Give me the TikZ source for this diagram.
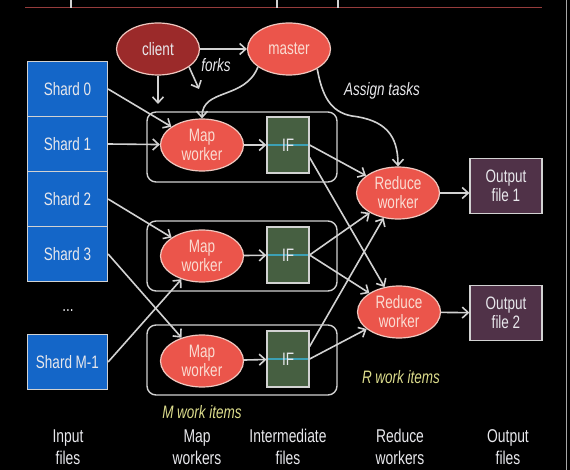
\documentclass[tikz,border=0pt]{standalone}
\usepackage{fontspec}
\setmainfont[FakeStretch=0.75]{Liberation Sans}
\usetikzlibrary{arrows.meta,positioning,shapes.geometric}
\definecolor{shard}{HTML}{1466C8}
\definecolor{worker}{HTML}{EB554B}
\definecolor{clientred}{HTML}{9B2A2A}
\definecolor{inter}{HTML}{465F41}
\definecolor{outfile}{HTML}{503248}
\definecolor{edge}{HTML}{D2D2D2}
\definecolor{rim}{HTML}{F0C8C0}
\definecolor{wire}{HTML}{3CA0B4}
\definecolor{fgtext}{HTML}{E8E8EC}
\definecolor{workertext}{HTML}{FADCD2}
\definecolor{itemnote}{HTML}{DCDC8C}
\definecolor{slideline}{HTML}{963C3C}

\begin{document}
\begin{tikzpicture}[x=1pt, y=-1pt,
  txt/.style={font=\fontsize{18}{19}\selectfont, text=fgtext},
  box/.style={draw=edge, line width=1.2pt, inner sep=0pt, align=center, txt},
  shardBox/.style={box, fill=shard, minimum width=80pt, minimum height=55pt},
  workerNode/.style={ellipse, draw=rim, line width=1.2pt, fill=worker, minimum width=83pt, minimum height=52pt,
    inner sep=0pt, align=center, txt, text=workertext},
  clientNode/.style={workerNode, fill=clientred, text=fgtext},
  ifBox/.style={box, fill=inter, minimum width=42pt, minimum height=56pt,
    path picture={\draw[wire, line width=1.3pt] (path picture bounding box.west) -- (path picture bounding box.east);}},
  outBox/.style={box, fill=outfile, minimum width=72pt, minimum height=55pt},
  groupBox/.style={draw=edge, rounded corners=9pt, line width=1.4pt, minimum width=190pt, minimum height=70pt},
  note/.style={font=\fontsize{18}{19}\selectfont\itshape, text=fgtext},
  itemNote/.style={note, text=itemnote},
  caption/.style={align=center, font=\fontsize{18.5}{22}\selectfont, text=fgtext},
  flow/.style={-{Straight Barb[length=6pt,width=11pt]}, draw=edge, line width=1.6pt}
]
  % slide background and leftover rules
  \fill[black] (0,0) rectangle (570,470);
  \useasboundingbox (0,0) rectangle (570,470);
  \draw[slideline, line width=1pt] (25,8) -- (542,8);
  \foreach \xx in {71,277,338}
    \draw[edge, line width=1.2pt] (\xx,0) -- (\xx,8);
  \draw[gray!70, line width=1pt] (566,0) -- (566,470);

  % work item groups
  \node[groupBox] (grp1) at (242,147) {};
  \node[groupBox] (grp2) at (242,256) {};
  \node[groupBox] (grp3) at (242,360) {};

  % input shards
  \node[shardBox] (s0) at (67.5,89) {Shard 0};
  \node[shardBox] (s1) at (67.5,144) {Shard 1};
  \node[shardBox] (s2) at (67.5,199) {Shard 2};
  \node[shardBox] (s3) at (67.5,254) {Shard 3};
  \node[txt] (dots) at (68,311) {...};
  \node[shardBox] (sm) at (67.5,362) {Shard M-1};

  % client and master
  \node[clientNode] (client) at (158,49) {client};
  \node[workerNode] (master) at (289,49) {master};
  \node[note] (forks) at (216,65) {forks};
  \node[note] (assign) at (382,91) {Assign tasks};
  \coordinate (fork1) at (158,104);
  \coordinate (fork2) at (199,89);

  % map workers and intermediate files
  \node[workerNode] (map1) at (202,145) {Map\\worker};
  \node[workerNode] (map2) at (202,256) {Map\\worker};
  \node[workerNode] (map3) at (202,361) {Map\\worker};
  \node[ifBox] (if1) at (288,145) {IF};
  \node[ifBox] (if2) at (288,255) {IF};
  \node[ifBox] (if3) at (288,359) {IF};

  % reduce workers and outputs
  \node[workerNode] (red1) at (398,193) {Reduce\\worker};
  \node[workerNode] (red2) at (399,312) {Reduce\\worker};
  \node[outBox] (out1) at (506,186) {Output\\file 1};
  \node[outBox] (out2) at (506,313) {Output\\file 2};

  \node[itemNote] (mitems) at (202,412) {M work items};
  \node[itemNote] (ritems) at (401,377) {R work items};

  % column captions
  \node[caption] (capIn) at (68,447) {Input\\files};
  \node[caption] (capMap) at (197,447) {Map\\workers};
  \node[caption] (capIf) at (288,447) {Intermediate\\files};
  \node[caption] (capRed) at (400,447) {Reduce\\workers};
  \node[caption] (capOut) at (508,447) {Output\\files};

  \draw[flow] (client) -- (master);
  \draw[flow] (client.south) -- (fork1);
  \draw[flow] (client.-30) -- (fork2);
  \draw[flow] (master.210) .. controls (245,100) and (202,88) .. (map1.north);
  \draw[flow] (master.-35) .. controls (322,95) and (330,112) .. (352,116)
    .. controls (385,120) and (398,135) .. (red1.north);

  \draw[flow] (s0.east) -- (map1);
  \draw[flow] (s1.east) -- (map1);
  \draw[flow] (s2.east) -- (map2);
  \draw[flow] (s3.east) -- (map3);
  \draw[flow] (sm.east) -- (map2);

  \draw[flow] (map1) -- (if1);
  \draw[flow] (map2) -- (if2);
  \draw[flow] (map3) -- (if3);

  \draw[flow] (if1.east) -- (red1);
  \draw[flow] (if1.-30) -- (red2);
  \draw[flow] (if2.east) -- (red1);
  \draw[flow] (if2.east) -- (red2);
  \draw[flow] (if3.30) -- (red1);
  \draw[flow] (if3.east) -- (red2);

  \draw[flow] (red1.east) -- (red1.east -| out1.west);
  \draw[flow] (red2) -- (out2);
\end{tikzpicture}
\end{document}
